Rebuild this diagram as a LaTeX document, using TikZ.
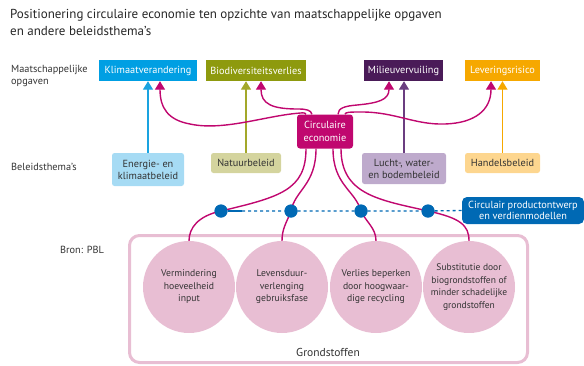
\documentclass[tikz,border=0pt]{standalone}
\usepackage{fontspec}
\setmainfont{PT Sans}
\usetikzlibrary{arrows.meta}
\definecolor{klimaat}{HTML}{009FE3}
\definecolor{klimline}{HTML}{1AA3E0}
\definecolor{bio}{HTML}{8E9A0E}
\definecolor{bioline}{HTML}{A3A82A}
\definecolor{milieu}{HTML}{4A1B58}
\definecolor{milieuline}{HTML}{6B3E80}
\definecolor{lever}{HTML}{F6A800}
\definecolor{mag}{HTML}{C0076F}
\definecolor{energie}{HTML}{A6DBF4}
\definecolor{natuur}{HTML}{D4D49E}
\definecolor{lucht}{HTML}{BEAACC}
\definecolor{handel}{HTML}{FDD68F}
\definecolor{pblblue}{HTML}{0069B4}
\definecolor{rose}{HTML}{E8BED3}
\definecolor{txt}{HTML}{333333}
\begin{document}
\begin{tikzpicture}[x=1pt,y=-1pt,
  opg/.style={rectangle, inner sep=0pt, minimum height=21pt, text=white, font=\fontsize{10.3}{12}\selectfont},
  thema/.style={rectangle, rounded corners=2.5pt, inner sep=0pt, text=txt, align=center, font=\fontsize{10.3}{12}\selectfont},
  lbl/.style={inner sep=0pt, text=txt, align=left, font=\fontsize{10.3}{12}\selectfont},
  circ/.style={circle, fill=rose, minimum size=92pt, inner sep=0pt, text=txt, align=center, font=\fontsize{9.7}{12.5}\selectfont},
  dotnode/.style={circle, fill=pblblue, minimum size=13pt, inner sep=0pt},
  tip/.style={-{Triangle[width=10pt,length=8.5pt]}},
  conn/.style={line width=1.4pt},
  magline/.style={conn, mag}
]
\useasboundingbox (0,0) rectangle (584,365);

% title
\node[anchor=north west, inner sep=0pt, align=left, text=black!85, font=\fontsize{13}{17}\selectfont] (title) at (10,9)
  {Positionering circulaire economie ten opzichte van maatschappelijke opgaven\\en andere beleidsthema's};

% row labels
\node[lbl, anchor=west] (lopg) at (11,76) {Maatschappelijke\\opgaven};
\node[lbl, anchor=west] (lbel) at (11,167) {Beleidsthema’s};
\node[lbl, anchor=west] (lbron) at (60,250) {Bron: PBL};

% top boxes
\node[opg, fill=klimaat, minimum width=98pt] (klim) at (148,70.5) {Klimaatverandering};
\node[opg, fill=bio, minimum width=100pt] (bio) at (256,70.5) {Biodiversiteitsverlies};
\node[opg, fill=milieu, minimum width=79pt] (mil) at (403.5,70.5) {Milieuvervuiling};
\node[opg, fill=lever, minimum width=75pt] (lev) at (502.5,70.5) {Leveringsrisico};

% policy boxes
\node[thema, fill=energie, minimum width=72pt, minimum height=33pt] (ener) at (148,169.5) {Energie- en\\klimaatbeleid};
\node[thema, fill=natuur, minimum width=70pt, minimum height=20pt] (nat) at (246,163) {Natuurbeleid};
\node[thema, fill=lucht, minimum width=84pt, minimum height=31pt] (lucht) at (404,168.5) {Lucht-, water-\\en bodembeleid};
\node[thema, fill=handel, minimum width=75pt, minimum height=20pt] (hand) at (502.5,163) {Handelsbeleid};

% central node
\node[rectangle, rounded corners=3pt, fill=mag, text=white, minimum width=56pt, minimum height=34pt, inner sep=0pt, align=center, font=\fontsize{10.3}{13}\selectfont] (ce) at (325,131.5) {Circulaire\\economie};

% vertical connectors
\draw[conn, klimline, tip] (ener.north) -- (klim.south);
\draw[conn, bioline, tip] (nat.north) -- (nat.north |- bio.south);
\draw[conn, milieuline, tip] (lucht.north) -- (lucht.north |- mil.south);
\draw[conn, lever, tip] (hand.north) -- (hand.north |- lev.south);

% magenta curves to top boxes
\draw[magline, tip] ([xshift=-19pt]ce.north) .. controls (305,112) and (302,113) .. (295,113.5)
  .. controls (262,117) and (222,131) .. (190,124)
  .. controls (168,120) and (160,108) .. ([xshift=12pt]klim.south);
\draw[magline, tip] ([xshift=-13pt]ce.north) .. controls (311,110) and (306,109) .. (298,109)
  .. controls (272,109) and (261,104) .. ([xshift=5pt]bio.south);
\draw[magline, tip] ([xshift=13pt]ce.north) .. controls (338,108) and (345,106) .. (357,105)
  .. controls (378,103) and (389,100) .. ([xshift=-14.5pt]mil.south);
\draw[magline, tip] ([xshift=20pt]ce.north) .. controls (345,112) and (350,112) .. (362,112)
  .. controls (395,112) and (415,125) .. (445,124)
  .. controls (475,123) and (491,110) .. ([xshift=-11.5pt]lev.south);

% frame
\node[draw=rose, line width=3pt, rounded corners=10pt, minimum width=398pt, minimum height=127pt, inner sep=0pt] (frame) at (328.5,299) {};
\node[inner sep=0pt, text=txt, font=\fontsize{11.5}{13}\selectfont] (grond) at (328,352) {Grondstoffen};

% circles
\node[circ] (c1) at (189,287) {Vermindering\\hoeveelheid\\input};
\node[circ] (c2) at (282,287) {Levensduur-\\verlenging\\gebruiksfase};
\node[circ] (c3) at (376,287) {Verlies beperken\\door hoogwaar-\\dige recycling};
\node[circ, font=\fontsize{9.5}{12.5}\selectfont] (c4) at (469,287) {Substitutie door\\biogrondstoffen of\\minder schadelijke\\grondstoffen};

% dots
\node[dotnode] (d1) at (221,211) {};
\node[dotnode] (d2) at (291,211) {};
\node[dotnode] (d3) at (361,211) {};
\node[dotnode] (d4) at (428,211) {};

% blue box
\node[rectangle, rounded corners=5pt, fill=pblblue, text=white, minimum width=122pt, minimum height=27pt, inner sep=0pt, align=center, font=\fontsize{10.3}{11.5}\selectfont] (cpo) at (523,210.5) {Circulair productontwerp\\en verdienmodellen};

% blue line
\coordinate (sol) at (242,211);
\draw[pblblue, line width=1.3pt] (d1) -- (sol);
\draw[pblblue, line width=1.3pt, dash pattern=on 3pt off 3pt] (sol) -- (d2) -- (d3) -- (d4) -- (cpo.west);

% magenta lines downwards
\draw[magline] ([xshift=-19pt]ce.south) .. controls (306,190) and (280,197) .. (d1.center)
  .. controls (198,216) and (189,228) .. (c1.north);
\draw[magline] ([xshift=-9pt]ce.south) .. controls (316,185) and (295,190) .. (d2.center)
  .. controls (287,222) and (282,228) .. (c2.north);
\draw[magline] ([xshift=8pt]ce.south) .. controls (333,185) and (355,190) .. (d3.center)
  .. controls (366,222) and (376,228) .. (c3.north);
\draw[magline] ([xshift=16pt]ce.south) .. controls (341,195) and (380,200) .. (d4.center)
  .. controls (460,218) and (469,225) .. (c4.north);
\foreach \d in {d1,d2,d3,d4} \node[dotnode] at (\d) {};
\end{tikzpicture}
\end{document}
